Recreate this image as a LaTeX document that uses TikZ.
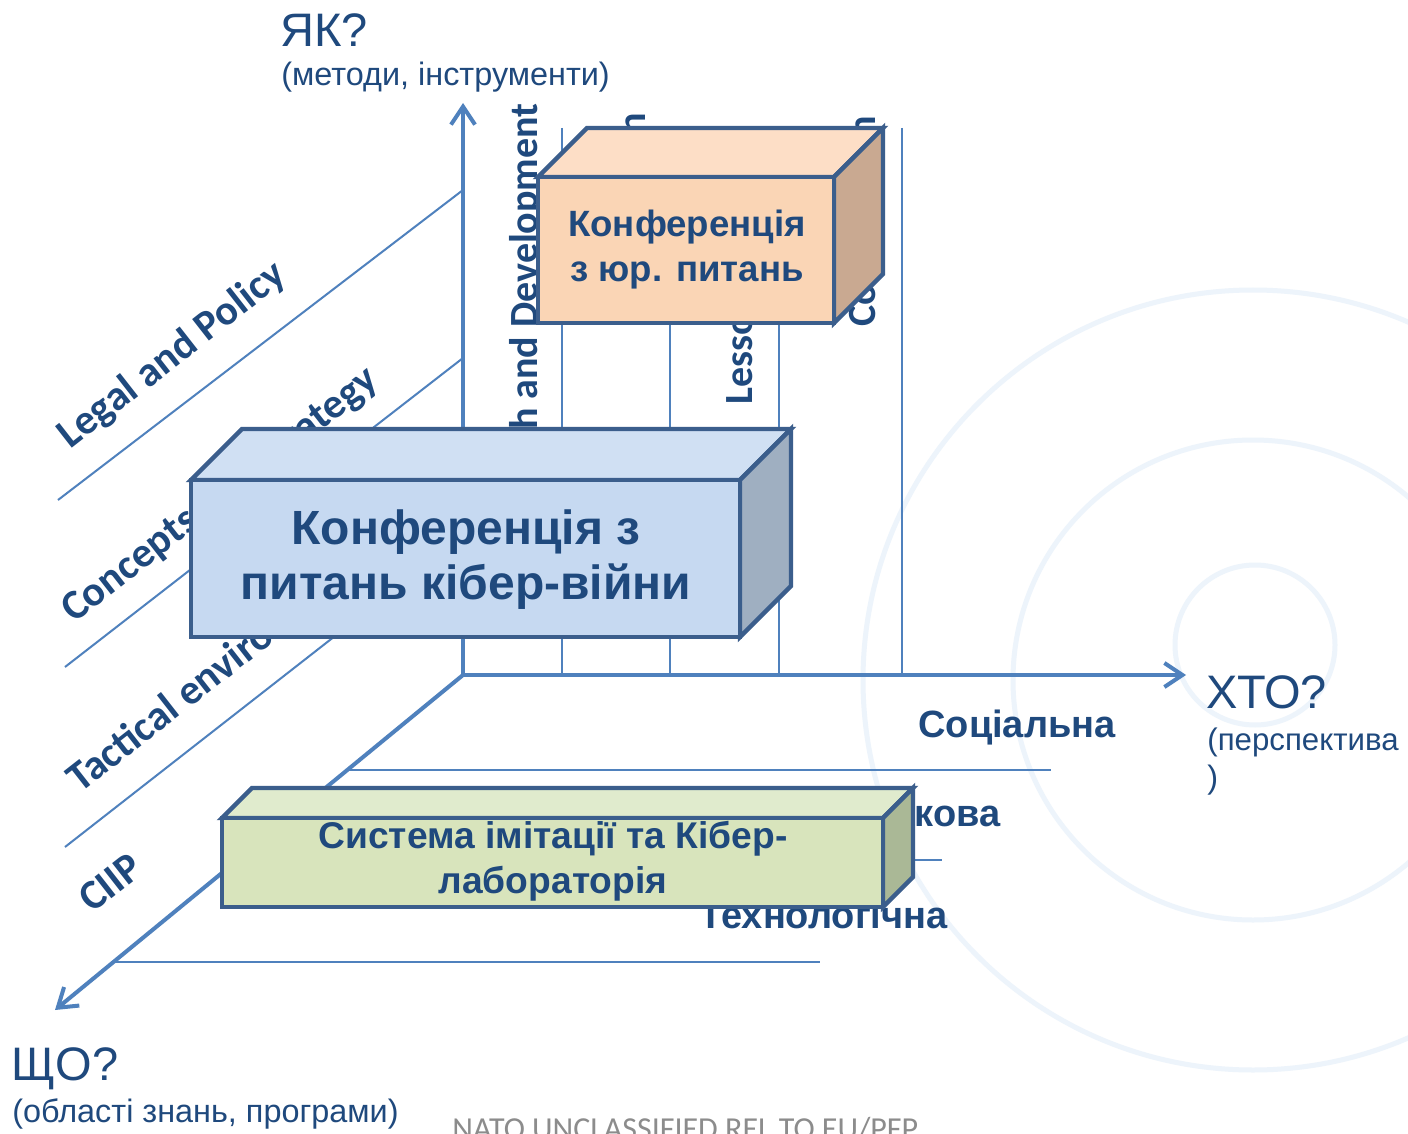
\documentclass[tikz,border=0pt]{standalone}
\usepackage{fontspec}
\setmainfont{Liberation Sans}
\newfontfamily\calfont{Carlito}
\usetikzlibrary{arrows.meta}
\definecolor{axisblue}{HTML}{4F81BD}
\definecolor{txtblue}{HTML}{1F497D}
\definecolor{edgeblue}{HTML}{3B5E8C}
\definecolor{wmark}{HTML}{EDF4FB}
\definecolor{peachF}{HTML}{FAD5B5}
\definecolor{peachT}{HTML}{FDDEC6}
\definecolor{peachS}{HTML}{C9A991}
\definecolor{blueF}{HTML}{C6D9F1}
\definecolor{blueT}{HTML}{D0E0F3}
\definecolor{blueS}{HTML}{9FAFC1}
\definecolor{greenF}{HTML}{D8E4BC}
\definecolor{greenT}{HTML}{E0EBCD}
\definecolor{greenS}{HTML}{AAB896}
\definecolor{natogray}{HTML}{8C8C8C}
\begin{document}
\begin{tikzpicture}[x=0.5pt,y=-0.5pt,
  axisline/.style={draw=axisblue, line width=2pt, -{Straight Barb[length=9pt,width=12pt,line width=2pt]}},
  gridline/.style={draw=axisblue, line width=1pt},
  facestyle/.style={draw=edgeblue, line width=2.2pt, line join=miter},
  lbl/.style={font=\calfont\bfseries\fontsize{20}{24}\selectfont, text=txtblue, inner sep=0pt},
  rowlbl/.style={font=\calfont\bfseries\fontsize{21}{24}\selectfont, text=txtblue, inner sep=0pt, rotate=38, anchor=base west},
  persp/.style={font=\bfseries\fontsize{19}{22}\selectfont, text=txtblue, inner sep=0pt},
  axbig/.style={font=\fontsize{23.5}{26}\selectfont, text=txtblue, inner sep=0pt},
  axsmall/.style={font=\fontsize{16.2}{19}\selectfont, text=txtblue, inner sep=0pt},
  boxtext/.style={text=txtblue, align=center, inner sep=0pt},
  wm/.style={draw=wmark, line width=2.5pt}
]
\useasboundingbox (0,0) rectangle (1408,1134);
\fill[white] (0,0) rectangle (1408,1134);

% faint watermark
\draw[wm] (1255,645) circle[radius=80];
\draw[wm] (1253,680) circle[radius=240];
\draw[wm] (1253,680) circle[radius=390];

% grid lines of the cube
\draw[gridline] (58,500) -- (463,190);
\draw[gridline] (65,667) -- (463,358);
\draw[gridline] (65,847) -- (463,536);
\draw[gridline] (347,770) -- (1051,770);
\draw[gridline] (236,860) -- (942,860);
\draw[gridline] (111,962) -- (820,962);
\foreach \gx in {562,670,779,902} \draw[gridline] (\gx,128) -- (\gx,675);

% column labels
\node[lbl, rotate=90, anchor=base east] (rd) at (537,103) {Research and Development};
\node[lbl, rotate=90, anchor=base east] (edu) at (645,113) {Education};
\node[lbl, rotate=90, anchor=base west] (ll) at (752,405) {Lessons Learned};
\node[lbl, rotate=90, anchor=base west] (cons) at (875,327) {Consultation};

% row labels
\node[rowlbl] (legal) at (70,450) {Legal and Policy};
\node[rowlbl] (conc) at (74,624) {Concepts and Strategy};
\node[rowlbl] (tact) at (80,794) {Tactical environment};
\node[rowlbl] (ciip) at (92,914) {CIIP};

% perspective labels
\node[persp, anchor=base] (soc) at (1017,737) {Соціальна};
\node[persp, anchor=base east] (mil) at (1001,826) {Військова};
\node[persp, anchor=base east] (tech) at (948,928) {Технологічна};

% axes
\coordinate (o) at (463,675);
\coordinate (ytip) at (463,103);
\coordinate (xtip) at (1186,675);
\coordinate (ztip) at (55,1010);
\draw[axisline] (o) -- (ytip);
\draw[axisline] (o) -- (xtip);
\draw[axisline] (o) -- (ztip);

% axis labels
\node[axbig, anchor=base west] (yak) at (280,47) {ЯК?};
\node[axsmall, anchor=base west] (yaks) at (281,86) {(методи, інструменти)};
\node[axbig, anchor=base west] (hto) at (1206,708) {ХТО?};
\node[axsmall, font=\fontsize{15.6}{19}\selectfont, anchor=base west] (htos) at (1207,750) {(перспектива};
\node[axsmall, anchor=base west] (htos2) at (1207,788) {)};
\node[axbig, anchor=base west] (shcho) at (11,1080) {ЩО?};
\node[axsmall, anchor=base west] (shchos) at (12,1122) {(області знань, програми)};
\node[font=\calfont\fontsize{16}{18}\selectfont, text=natogray, inner sep=0pt, anchor=base west] (nato) at (452,1139) {NATO UNCLASSIFIED REL TO EU/PFP};

% peach box
\filldraw[facestyle, fill=peachT] (538,177) -- (587,128) -- (883,128) -- (834,177) -- cycle;
\filldraw[facestyle, fill=peachS] (834,177) -- (883,128) -- (883,274) -- (834,323) -- cycle;
\filldraw[facestyle, fill=peachF] (538,177) rectangle (834,323);
\node[boxtext, font=\bfseries\fontsize{18.3}{22.5}\selectfont] (legalconf) at (687,250) {Конференція\\з юр. питань};

% blue box
\filldraw[facestyle, fill=blueT] (191,480) -- (242,429) -- (791,429) -- (740,480) -- cycle;
\filldraw[facestyle, fill=blueS] (740,480) -- (791,429) -- (791,586) -- (740,637) -- cycle;
\filldraw[facestyle, fill=blueF] (191,480) rectangle (740,637);
\node[boxtext, font=\bfseries\fontsize{24}{27.5}\selectfont] (cyberconf) at (466,560) {Конференція з\\питань кібер-війни};

% green box
\filldraw[facestyle, fill=greenT] (222,818) -- (252,788) -- (913,788) -- (883,818) -- cycle;
\filldraw[facestyle, fill=greenS] (883,818) -- (913,788) -- (913,877) -- (883,907) -- cycle;
\filldraw[facestyle, fill=greenF] (222,818) rectangle (883,907);
\node[boxtext, font=\bfseries\fontsize{18.6}{22.5}\selectfont] (simlab) at (553,861) {Система імітації та Кібер-\\лабораторія};
\end{tikzpicture}
\end{document}
